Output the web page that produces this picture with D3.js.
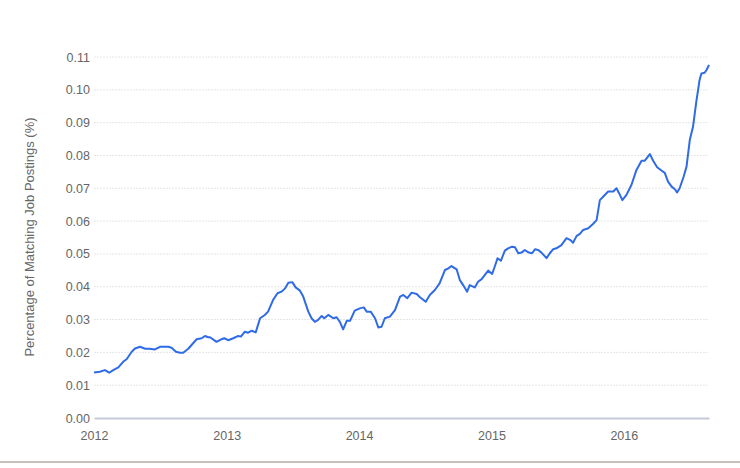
<!DOCTYPE html>
<html>
<head>
<meta charset="utf-8">
<script src="https://cdn.jsdelivr.net/npm/d3@7"></script>
<style>
  body { margin: 0; background: #fff; }
  svg { display: block; font-family: "Liberation Sans", Arial, sans-serif; }
</style>
</head>
<body>
<svg id="vis1"></svg>
<script>
// weekly-ish readings of the series
var dates = [
  "2012-01-01","2012-01-17","2012-01-31","2012-02-12","2012-02-23","2012-03-08","2012-03-22","2012-03-31",
  "2012-04-14","2012-04-23","2012-05-07","2012-05-21","2012-06-03","2012-06-17","2012-07-01","2012-07-24",
  "2012-08-02","2012-08-14","2012-08-25","2012-09-03","2012-09-17","2012-10-10","2012-10-24","2012-11-02",
  "2012-11-11","2012-11-16","2012-12-04","2012-12-18","2012-12-25","2013-01-05","2013-01-19","2013-02-02",
  "2013-02-09","2013-02-20","2013-03-01","2013-03-11","2013-03-22","2013-04-03","2013-04-16","2013-04-25",
  "2013-05-09","2013-05-21","2013-06-01","2013-06-11","2013-06-20","2013-07-01","2013-07-10","2013-07-22",
  "2013-07-31","2013-08-14","2013-08-23","2013-09-01","2013-09-10","2013-09-20","2013-09-27","2013-10-08",
  "2013-10-22","2013-10-31","2013-11-09","2013-11-18","2013-11-28","2013-12-07","2013-12-20","2014-01-03",
  "2014-01-14","2014-01-22","2014-02-02","2014-02-14","2014-02-23","2014-03-04","2014-03-13","2014-03-27",
  "2014-04-10","2014-04-24","2014-05-03","2014-05-14","2014-05-26","2014-06-09","2014-06-18","2014-07-04",
  "2014-07-15","2014-07-29","2014-08-11","2014-08-26","2014-09-04","2014-09-13","2014-09-27","2014-10-06",
  "2014-10-15","2014-10-26","2014-11-02","2014-11-16","2014-11-25","2014-12-05","2014-12-14","2014-12-23",
  "2015-01-03","2015-01-10","2015-01-18","2015-01-27","2015-02-07","2015-02-16","2015-02-27","2015-03-07",
  "2015-03-16","2015-03-25","2015-04-03","2015-04-14","2015-04-23","2015-05-01","2015-05-10","2015-05-19",
  "2015-06-02","2015-06-11","2015-06-20","2015-06-29","2015-07-13","2015-07-27","2015-08-07","2015-08-14",
  "2015-08-24","2015-09-02","2015-09-11","2015-09-25","2015-10-08","2015-10-18","2015-10-27","2015-11-05",
  "2015-11-19","2015-12-03","2015-12-12","2015-12-19","2015-12-28","2016-01-08","2016-01-22","2016-02-05",
  "2016-02-19","2016-02-28","2016-03-13","2016-03-22","2016-04-02","2016-04-14","2016-04-23","2016-05-02",
  "2016-05-12","2016-05-21","2016-05-27","2016-06-03","2016-06-14","2016-06-22","2016-07-01","2016-07-10",
  "2016-07-19","2016-07-28","2016-08-02","2016-08-11","2016-08-17","2016-08-23"
]

var values = [
  0.0139,0.0141,0.0146,0.0138,0.0146,0.0154,0.0172,0.0179,
  0.0202,0.0212,0.0217,0.0211,0.0211,0.0209,0.0217,0.0217,
  0.0214,0.0202,0.0199,0.0199,0.0211,0.0240,0.0243,0.0250,
  0.0246,0.0246,0.0232,0.0240,0.0243,0.0237,0.0243,0.0250,
  0.0248,0.0263,0.0260,0.0266,0.0261,0.0304,0.0314,0.0324,
  0.0360,0.0380,0.0385,0.0395,0.0412,0.0414,0.0398,0.0388,
  0.0370,0.0324,0.0304,0.0293,0.0299,0.0311,0.0304,0.0314,
  0.0304,0.0307,0.0293,0.0270,0.0296,0.0296,0.0327,0.0334,
  0.0337,0.0324,0.0324,0.0304,0.0276,0.0278,0.0304,0.0309,
  0.0329,0.0370,0.0375,0.0365,0.0382,0.0378,0.0368,0.0354,
  0.0375,0.0390,0.0410,0.0451,0.0456,0.0463,0.0453,0.0420,
  0.0405,0.0385,0.0405,0.0398,0.0415,0.0423,0.0436,0.0449,
  0.0439,0.0461,0.0487,0.0479,0.0510,0.0517,0.0522,0.0520,
  0.0502,0.0504,0.0512,0.0504,0.0502,0.0514,0.0512,0.0504,
  0.0487,0.0502,0.0514,0.0517,0.0527,0.0548,0.0542,0.0534,
  0.0555,0.0561,0.0573,0.0578,0.0591,0.0603,0.0664,0.0674,
  0.0690,0.0690,0.0700,0.0685,0.0664,0.0679,0.0710,0.0756,
  0.0784,0.0784,0.0804,0.0784,0.0764,0.0754,0.0747,0.0720,
  0.0705,0.0697,0.0687,0.0700,0.0735,0.0766,0.0847,0.0888,
  0.0964,0.1030,0.1050,0.1052,0.1062,0.1076
]

var yTicks = [0, 0.01, 0.02, 0.03, 0.04, 0.05, 0.06, 0.07, 0.08, 0.09, 0.10, 0.11]
var xTicks = ["2012-01-01", "2013-01-01", "2014-01-01", "2015-01-01", "2016-01-01"]
var yTitle = "Percentage of Matching Job Postings (%)"

var parse = d3.timeParse("%Y-%m-%d")
var dataset = dates.map((d, i) => ({date: parse(d), value: values[i]}))

var dimensions = ({
  width: 740,
  height: 468,
  margin: { top: 57, right: 31, bottom: 50, left: 94 }
})

var svg = d3.select("#vis1")
  .attr("width", dimensions.width)
  .attr("height", dimensions.height)

var xScale = d3.scaleTime()
  .domain([parse("2012-01-01"), parse("2016-08-23")])
  .range([dimensions.margin.left, dimensions.width - dimensions.margin.right])

var yScale = d3.scaleLinear()
  .domain([0, 0.11])
  .range([dimensions.height - dimensions.margin.bottom, dimensions.margin.top])

// gridlines
svg.append("g")
  .selectAll("line")
  .data(yTicks.slice(1))
  .enter()
  .append("line")
  .attr("x1", dimensions.margin.left)
  .attr("x2", dimensions.width - dimensions.margin.right)
  .attr("y1", d => yScale(d))
  .attr("y2", d => yScale(d))
  .attr("stroke", "#e6e6e6")
  .attr("stroke-dasharray", "2,1")

var yAxisGen = d3.axisLeft(yScale)
  .tickValues(yTicks)
  .tickFormat(d3.format(".2f"))
  .tickSize(0)
  .tickPadding(4)
var yAxis = svg.append("g")
  .call(yAxisGen)
  .attr("transform", `translate(${dimensions.margin.left},0)`)
yAxis.select(".domain").remove()
yAxis.selectAll("text")
  .attr("fill", "#666")
  .style("font-size", "12.5px")
  .style("font-family", "'Liberation Sans', Arial, sans-serif")

var xAxisGen = d3.axisBottom(xScale)
  .tickValues(xTicks.map(parse))
  .tickFormat(d3.timeFormat("%Y"))
  .tickSize(0)
  .tickPadding(13)
var xAxis = svg.append("g")
  .call(xAxisGen)
  .attr("transform", `translate(0,${dimensions.height - dimensions.margin.bottom})`)
xAxis.select(".domain")
  .attr("stroke", "#c3ccd8")
  .attr("stroke-width", 2)
xAxis.selectAll("text")
  .attr("fill", "#666")
  .style("font-size", "12.5px")
  .style("font-family", "'Liberation Sans', Arial, sans-serif")

var lineGen = d3.line()
  .x(d => xScale(d.date))
  .y(d => yScale(d.value))

svg.append("path")
  .datum(dataset)
  .attr("d", lineGen)
  .attr("fill", "none")
  .attr("stroke", "#2f6be6")
  .attr("stroke-width", 2)
  .attr("stroke-linejoin", "round")

svg.append("text")
  .attr("transform", "translate(34,237) rotate(-90)")
  .attr("text-anchor", "middle")
  .attr("fill", "#666")
  .style("font-size", "13px")
  .text(yTitle)

// page divider under the chart
svg.append("line")
  .attr("x1", 0)
  .attr("x2", dimensions.width)
  .attr("y1", 462)
  .attr("y2", 462)
  .attr("stroke", "#b3aea6")
  .attr("stroke-width", 1.5)
</script>
</body>
</html>
